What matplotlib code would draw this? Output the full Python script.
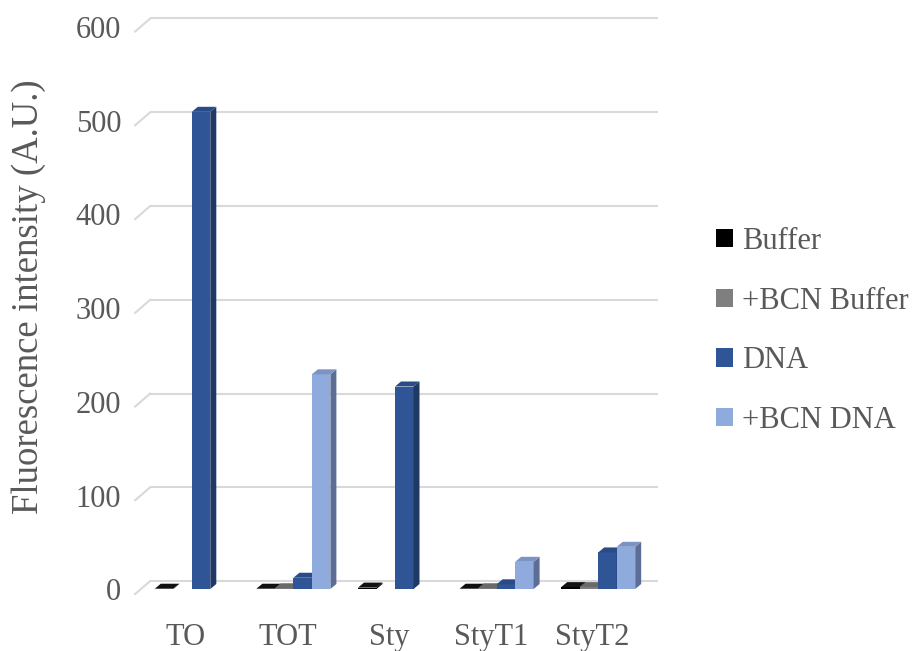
import matplotlib
matplotlib.use("Agg")
import matplotlib.pyplot as plt
from matplotlib.patches import Polygon, Patch
from matplotlib.transforms import offset_copy
import numpy as np

# ---- data ----
categories = ["TO", "TOT", "Sty", "StyT1", "StyT2"]
series_names = ["Buffer", "+BCN Buffer", "DNA", "+BCN DNA"]
buffer_vals = [0.3, 0.3, 1.5, 0.3, 2.0]
bcn_buffer_vals = [np.nan, 0.8, np.nan, 0.8, 2.0]
dna_vals = [509, 12, 216, 5, 39]
bcn_dna_vals = [np.nan, 229, np.nan, 29, 45]
y_ticks = [0, 100, 200, 300, 400, 500, 600]
y_label = "Fluorescence intensity (A.U.)"

# ---- style ----
front_colors = ["#000000", "#7f7f7f", "#2f5597", "#8faadc"]
top_colors = ["#111111", "#6a6a6a", "#294b87", "#7b94c4"]
side_colors = ["#000000", "#555555", "#1f3864", "#5d6e96"]
text_color = "#595959"
grid_color = "#d9d9d9"
FONT = "Liberation Serif"

W, H = 918, 651
fig = plt.figure(figsize=(W / 100, H / 100), dpi=100)

# axes = plane of the bars' front faces (pixel geometry, top-origin)
L, R, B, T = 141.0, 649.0, 589.0, 26.5
ax = fig.add_axes([L / W, (H - B) / H, (R - L) / W, (B - T) / H])
ax.set_xlim(-0.5, len(categories) - 0.5)
ax.set_ylim(0, 600)
ax.axis("off")

ppx = (R - L) / len(categories)   # pixels per x unit
ppy = (B - T) / 600.0              # pixels per y unit

# offsets (pixels) of back wall and front plane relative to bar-front plane
back_dx, back_dy = 9.2, 8.0
front_dx, front_dy = -5.8, -5.0
# bar depth
bar_dx, bar_dy = 6.0, 5.0

# gridlines (back wall + left wall diagonal)
back_tr = offset_copy(ax.transData, fig=fig, x=back_dx, y=back_dy, units="dots")
for v in y_ticks:
    ax.plot([-0.5, len(categories) - 0.5], [v, v], color=grid_color, lw=1.5,
            transform=back_tr, clip_on=False, zorder=1, solid_capstyle="butt")
    ax.plot([-0.5 + front_dx / ppx, -0.5 + back_dx / ppx],
            [v + front_dy / ppy, v + back_dy / ppy],
            color=grid_color, lw=1.5, clip_on=False, zorder=1)

# bars with pseudo-3D faces
all_vals = [buffer_vals, bcn_buffer_vals, dna_vals, bcn_dna_vals]
w = 18.5 / ppx
ddx, ddy = bar_dx / ppx, bar_dy / ppy
z = 2
x_base = np.arange(len(categories))
for ci in range(len(categories)):
    for si, vals in enumerate(all_vals):
        h = vals[ci]
        if np.isnan(h):
            continue
        x0 = x_base[ci] + (si - 2) * w
        x1 = x0 + w
        ax.bar([x0], [h], width=w, align="edge", color=front_colors[si],
               linewidth=0, zorder=z, clip_on=False)
        ax.add_patch(Polygon([(x1, 0), (x1, h), (x1 + ddx, h + ddy), (x1 + ddx, ddy)],
                             closed=True, facecolor=side_colors[si], edgecolor="none",
                             zorder=z, clip_on=False))
        ax.add_patch(Polygon([(x0, h), (x1, h), (x1 + ddx, h + ddy), (x0 + ddx, h + ddy)],
                             closed=True, facecolor=top_colors[si], edgecolor="none",
                             zorder=z, clip_on=False))
        z += 1

# y tick labels on front plane
ytr = offset_copy(ax.get_yaxis_transform(), fig=fig, x=front_dx - 14, y=front_dy + 1, units="dots")
for v in y_ticks:
    ax.text(0, v, str(v), transform=ytr, ha="right", va="center",
            fontsize=22, family=FONT, color=text_color)

# category labels on front plane
xtr = offset_copy(ax.get_xaxis_transform(), fig=fig, x=front_dx, y=-56, units="dots")
for ci, c in enumerate(categories):
    ax.text(x_base[ci], 0, c, transform=xtr, ha="center", va="baseline",
            fontsize=22, family=FONT, color=text_color)

fig.text(29 / W, 1 - 297 / H, y_label, rotation=90, ha="center", va="center",
         fontsize=26.5, family=FONT, color=text_color)

handles = [Patch(facecolor=c, edgecolor="none") for c in front_colors]
leg = fig.legend(handles, series_names, loc="upper left",
                 bbox_to_anchor=(716 / W, 1 - 227 / H), bbox_transform=fig.transFigure,
                 frameon=False, handlelength=0.55, handleheight=0.55,
                 handletextpad=0.3, labelspacing=1.0, borderpad=0, borderaxespad=0,
                 prop={"family": FONT, "size": 22})
for t in leg.get_texts():
    t.set_color(text_color)

fig.savefig("out.png", dpi=100)
